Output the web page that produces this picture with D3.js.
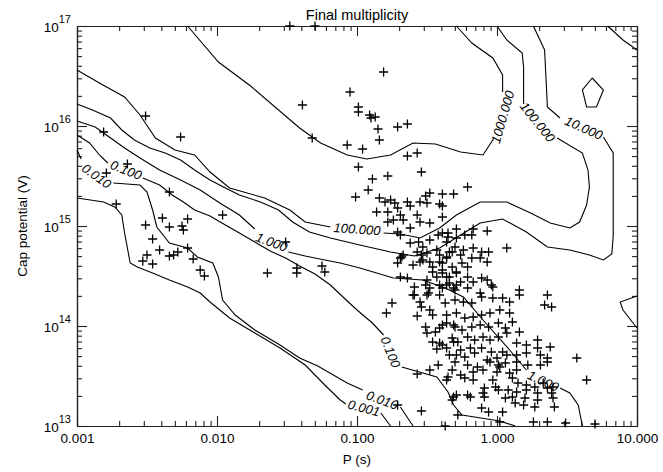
<!DOCTYPE html>
<html>
<head>
<meta charset="utf-8">
<script src="https://cdn.jsdelivr.net/npm/d3@7"></script>
<style>
body { margin: 0; background: #fff; }
text { font-family: "Liberation Sans", Arial, sans-serif; fill: #000; }
</style>
</head>
<body>
<div id="chart"></div>
<script>
// all values below are log10 units: [log10 P (s), log10 V]
var xTickValues = [0.001, 0.01, 0.1, 1, 10];
var xTickLabels = ["0.001", "0.010", "0.100", "1.000", "10.000"];
var yTickValues = [1e13, 1e14, 1e15, 1e16, 1e17];
var yTickExps = ["13", "14", "15", "16", "17"];

// contour lines, each level is a list of segments (broken where the label sits)
var c1000 = [
	[[-2.21,17.0],[-1.99,16.64],[-1.76,16.40],[-1.41,15.98],[-1.26,15.83],[-1.07,15.71],[-0.93,15.67],
	 [-0.76,15.71],[-0.60,15.83],[-0.44,15.82],[-0.26,15.74],[-0.10,15.71],[-0.03,15.86]],
	[[0.04,16.34],[0.04,16.51],[-0.03,16.68],[-0.18,16.83],[-0.29,17.0]]
];
var c100 = [
	[[-3.00,16.56],[-2.84,16.43],[-2.66,16.29],[-2.55,16.11],[-2.44,15.88],[-2.30,15.76],[-2.16,15.71],
	 [-2.05,15.54],[-1.91,15.38],[-1.66,15.28],[-1.48,15.16],[-1.37,15.04],[-1.19,14.99]],
	[[-0.81,14.93],[-0.69,14.92],[-0.55,14.88],[-0.41,14.98],[-0.29,15.11],[-0.12,15.24],[0.07,15.24],
	 [0.24,15.13],[0.38,15.03],[0.52,14.98],[0.59,15.04],[0.64,15.21],[0.66,15.39],[0.65,15.56],
	 [0.61,15.73],[0.43,15.88]],
	[[0.19,16.22],[0.19,16.59],[0.18,16.73],[0.07,16.86],[0.00,17.0]]
];
var c10 = [
	[[-3.00,16.22],[-2.89,16.16],[-2.76,16.08],[-2.68,15.96],[-2.59,15.86],[-2.48,15.78],[-2.37,15.73],
	 [-2.26,15.66],[-2.16,15.56],[-2.05,15.46],[-1.94,15.38],[-1.84,15.31],[-1.69,15.24],[-1.56,15.16],
	 [-1.46,15.04],[-1.34,14.94],[-1.19,14.88],[-0.98,14.81],[-0.76,14.74],[-0.59,14.70],[-0.41,14.78],
	 [-0.26,14.91],[-0.12,15.03],[0.04,15.07],[0.21,14.94],[0.36,14.79],[0.52,14.76],[0.66,14.71],
	 [0.76,14.66],[0.82,14.72],[0.83,14.90],[0.83,15.06],[0.83,15.73],[0.76,15.89]],
	[[0.45,16.08],[0.36,16.19],[0.34,16.76],[0.26,17.0]]
];
var c1 = [
	[[-3.00,16.05],[-2.87,15.99],[-2.76,15.88],[-2.66,15.78],[-2.55,15.68],[-2.41,15.56],[-2.26,15.46],
	 [-2.12,15.36],[-1.98,15.23],[-1.84,15.11],[-1.73,14.97]],
	[[-1.49,14.74],[-1.37,14.70],[-1.23,14.66],[-1.12,14.63],[-0.98,14.58],[-0.74,14.48],[-0.53,14.46],
	 [-0.37,14.38],[-0.24,14.29],[-0.10,14.06],[0.09,13.76],[0.21,13.56]],
	[[0.45,13.38],[0.52,13.33],[0.58,13.21],[0.61,13.00]],
	[[0.79,17.0],[0.90,16.86],[1.00,16.76]],
	[[0.68,16.48],[0.76,16.36],[0.71,16.19],[0.64,16.19],[0.61,16.36],[0.68,16.48]],
	[[1.00,14.30],[0.88,14.24],[0.90,14.16],[1.00,13.98]]
];
var c01 = [
	[[-3.00,15.91],[-2.91,15.83],[-2.84,15.71],[-2.78,15.63]],
	[[-2.53,15.48],[-2.41,15.41],[-2.32,15.31],[-2.24,15.24],[-2.16,15.16],[-2.05,15.10],[-1.94,15.01],
	 [-1.84,14.93],[-1.73,14.84],[-1.62,14.75],[-1.51,14.68],[-1.41,14.60],[-1.30,14.52],[-1.19,14.41],
	 [-1.10,14.29],[-1.00,14.16],[-0.89,14.03],[-0.81,13.91]],
	[[-0.68,13.59],[-0.43,13.49],[-0.35,13.34],[-0.31,13.21],[-0.25,13.11],[0.02,13.05],[0.13,13.00]]
];
var c001 = [
	[[-3.00,15.76],[-2.97,15.67]],
	[[-2.74,15.43],[-2.55,15.41],[-2.50,15.34],[-2.46,15.16],[-2.43,14.99],[-2.34,14.83],[-2.21,14.78],
	 [-2.14,14.69],[-2.03,14.63],[-1.99,14.49],[-1.96,14.26],[-1.87,14.11],[-1.73,13.96],[-1.55,13.81],
	 [-1.41,13.68],[-1.28,13.60],[-1.07,13.43],[-0.96,13.36]],
	[[-0.69,13.19],[-0.60,13.00]]
];
var c0001 = [
	[[-3.00,15.28],[-2.81,15.24],[-2.73,15.19],[-2.68,15.11],[-2.66,14.93],[-2.62,14.63],[-2.57,14.59],
	 [-2.46,14.53],[-2.34,14.46],[-2.21,14.39],[-2.12,14.33],[-2.05,14.24],[-1.91,14.08],[-1.73,13.93],
	 [-1.55,13.78],[-1.37,13.61],[-1.23,13.41],[-1.12,13.26],[-1.08,13.22]],
	[[-0.83,13.13],[-0.76,13.00]]
];

var labelText = ["1000.000", "100.000", "100.000", "10.000", "1.000", "1.000",
	"0.100", "0.100", "0.010", "0.010", "0.001"];
var labelPos = [[0.04,16.09], [-1.00,14.97], [0.29,16.04], [0.62,15.98], [-1.61,14.84], [0.33,13.45],
	[-2.65,15.56], [-0.76,13.74], [-2.86,15.50], [-0.82,13.26], [-0.95,13.18]];
var labelAngle = [-74, 4, 51, 24, 20, 25, 22, 68, 36, 20, 15];

// pulsars (scatter)
var pointsLeft = [
	[-2.81,15.94],[-2.51,16.10],[-2.26,15.89],[-2.79,15.53],[-2.64,15.62],[-2.72,15.22],[-2.34,15.34],
	[-2.51,15.01],[-2.39,15.08],[-2.34,14.99],[-2.25,15.00],[-2.21,15.07],[-2.24,14.96],[-2.46,14.87],
	[-2.41,14.76],[-2.21,14.78],[-2.28,14.74],[-2.34,14.70],[-2.31,14.71],[-2.50,14.71],[-2.53,14.65],
	[-2.46,14.62],[-2.17,14.67],[-2.12,14.56],[-2.09,14.50],[-1.96,15.11],[-1.64,14.53],[-1.51,14.84],
	[-1.43,14.58],[-1.43,14.53],[-1.25,14.60],[-1.23,14.54]
];
var pointsUpper = [
	[-1.39,16.21],[-0.99,16.19],[-0.99,16.14],[-1.32,15.88],[-1.07,15.81],[-0.99,15.59],[-1.01,15.29],
	[-0.81,16.54],[-1.05,16.34],[-0.91,16.11],[-0.87,16.09],[-0.90,16.08],[-0.85,15.97],[-0.71,15.99],
	[-0.64,16.02],[-0.84,15.86],[-0.96,15.77],[-0.64,15.70],[-0.57,15.73],[-1.48,17.0],[-1.30,17.0]
];
var pointsClusterTop = [
	[-0.89,15.47],[-0.78,15.50],[-0.54,15.54],[-0.92,15.36],[-0.84,15.28],[-0.80,15.24],[-0.73,15.23],
	[-0.71,15.18],[-0.64,15.24],[-0.62,15.20],[-0.55,15.24],[-0.50,15.23],[-0.51,15.30],[-0.48,15.33],
	[-0.39,15.32],[-0.31,15.32],[-0.41,15.22],[-0.39,15.09],[-0.74,15.06],[-0.67,15.06],[-0.57,15.11],
	[-0.55,15.04],[-0.48,15.03],[-0.71,14.94],[-0.69,14.91],[-0.62,14.98],[-0.62,14.83],[-0.56,14.84],
	[-0.53,14.79],[-0.48,14.86],[-0.42,14.91],[-0.35,14.93],[-0.36,14.84],[-0.29,14.88],[-0.57,14.74],
	[-0.54,14.71],[-0.50,14.73],[-0.43,14.76],[-0.41,14.71],[-0.69,14.68],[-0.67,14.71],[-0.71,14.63],
	[-0.53,14.66],[-0.60,14.61],[-0.55,14.64],[-0.48,14.64],[-0.46,14.59],[-0.41,14.64],[-0.36,14.68],
	[-0.32,14.74],[-0.69,14.49],[-0.64,14.48],[-0.50,14.46],[-0.46,14.54],[-0.43,14.49],[-0.39,14.53],
	[-0.34,14.49],[-0.29,14.53],[-0.59,14.39],[-0.51,14.41],[-0.48,14.38],[-0.41,14.41],[-0.36,14.41],
	[-0.59,14.31],[-0.49,14.33],[-0.41,14.31],[-0.31,14.38],[-0.29,14.41],[-0.21,15.39],[-0.76,15.26],
	[-0.86,15.14],[-0.78,15.14],[-0.69,15.11],[-0.78,15.04],[-0.68,14.69]
];
var pointsClusterMid = [
	[-0.39,15.20],[-0.29,14.97],[-0.17,14.97],[-0.07,14.95],[-0.39,14.93],[-0.35,14.89],[-0.23,14.91],
	[-0.18,14.91],[0.07,14.78],[-0.30,14.79],[-0.24,14.76],[-0.17,14.78],[-0.11,14.74],[-0.06,14.74],
	[-0.34,14.74],[-0.36,14.69],[-0.26,14.71],[-0.12,14.68],[-0.07,14.64],[-0.18,14.68],[-0.39,14.63],
	[-0.25,14.63],[-0.21,14.59],[-0.32,14.59],[-0.39,14.56],[-0.29,14.54],[-0.21,14.49],[-0.11,14.48],
	[-0.07,14.46],[-0.36,14.49],[-0.34,14.43],[-0.26,14.44],[-0.17,14.44],[-0.04,14.41],[-0.03,14.39],
	[-0.39,14.38],[-0.30,14.36],[-0.21,14.38],[-0.12,14.33],[0.04,14.28],[0.16,14.36],[0.16,14.31],
	[0.36,14.31],[-0.75,14.23],[-0.79,14.13],[-0.57,14.10],[-0.60,14.31],[-0.55,14.24],[-0.50,14.31],
	[-0.54,14.19],[-0.48,14.16],[-0.46,14.11],[-0.51,13.99],[-0.50,13.93],[-0.44,13.94],[-0.41,13.98],
	[-0.36,14.03],[-0.31,14.01],[-0.46,13.84],[-0.41,13.83],[-0.43,13.77],[-0.36,13.78],[-0.31,13.84],
	[-0.29,13.71],[-0.42,13.61],[-0.48,13.56],[-0.57,13.52],[-0.35,13.49],[-0.36,13.46],[-0.31,13.29],
	[-0.32,13.26],[-0.29,13.31],[-0.28,13.11],[-0.71,13.21],[-0.54,13.15],[-0.37,13.00]
];
var pointsClusterLow = [
	[0.34,14.21],[0.39,14.19],[-0.37,14.23],[-0.30,14.26],[-0.24,14.24],[-0.18,14.23],[-0.11,14.29],
	[-0.03,14.28],[0.09,14.24],[-0.36,14.11],[-0.29,14.13],[-0.23,14.08],[-0.17,14.09],[-0.11,14.11],
	[-0.05,14.13],[0.02,14.16],[0.09,14.13],[0.11,14.04],[-0.39,14.01],[-0.30,13.99],[-0.25,13.96],
	[-0.18,13.99],[-0.12,14.01],[-0.06,13.99],[0.01,14.03],[0.06,13.98],[0.16,13.94],[-0.32,13.88],
	[-0.28,13.84],[-0.21,13.89],[-0.16,13.86],[-0.10,13.89],[-0.05,13.86],[0.01,13.89],[0.07,13.93],
	[-0.39,13.81],[-0.26,13.76],[-0.19,13.78],[-0.11,13.78],[-0.04,13.74],[0.04,13.74],[0.14,13.83],
	[0.21,13.81],[0.29,13.86],[0.29,13.78],[0.38,13.79],[-0.34,13.71],[-0.23,13.69],[-0.16,13.73],
	[-0.07,13.66],[0.00,13.68],[0.07,13.71],[0.14,13.71],[0.21,13.73],[0.31,13.71],[0.36,13.68],
	[-0.30,13.64],[-0.21,13.61],[-0.14,13.59],[-0.05,13.64],[0.01,13.61],[0.06,13.63],[0.14,13.64],
	[0.22,13.61],[0.31,13.61],[0.36,13.64],[-0.32,13.56],[-0.26,13.51],[-0.17,13.54],[-0.10,13.56],
	[0.00,13.54],[0.02,13.59],[0.09,13.53],[0.14,13.56],[-0.23,13.48],[-0.17,13.46],[-0.03,13.46],
	[0.11,13.48],[0.15,13.43],[0.21,13.41],[0.27,13.39],[0.33,13.43],[0.36,13.38],[0.40,13.39],
	[-0.09,13.38],[-0.01,13.39],[0.01,13.36],[0.08,13.36],[0.14,13.34],[0.21,13.36],[0.29,13.33],
	[0.39,13.33],[-0.10,13.33],[-0.19,13.29],[-0.09,13.29],[0.06,13.28],[0.11,13.29],[0.20,13.28],
	[0.29,13.26],[0.40,13.28],[0.13,13.23],[0.19,13.21],[0.27,13.19],[0.41,13.19],[-0.11,13.18],
	[-0.06,13.14],[0.04,13.14],[0.26,13.04],[0.02,13.04],[0.36,13.04],[0.49,13.03],[0.57,13.68],
	[0.70,13.02],[0.64,13.46],[-0.21,13.31]
];

var margin = { left: 77, top: 26 }, width = 560, height = 400;

var x = d3.scaleLog().domain([0.001, 10]).range([0, width]);
var y = d3.scaleLog().domain([1e13, 1e17]).range([height, 0]);

function px(d) { return x(Math.pow(10, d[0])); }
function py(d) { return y(Math.pow(10, d[1])); }

var svg = d3.select("#chart").append("svg").attr("width", 663).attr("height", 472);

svg.append("text").attr("x", margin.left + width / 2).attr("y", 20)
	.attr("text-anchor", "middle").style("font-size", "14.5px").text("Final multiplicity");

var g = svg.append("g").attr("transform", "translate(" + margin.left + "," + margin.top + ")");

// minor tick values
var xMinor = [], yMinor = [];
for (var e = -3; e < 1; e++) {
	for (var m = 2; m < 10; m++) xMinor.push(m * Math.pow(10, e));
}
for (var e2 = 13; e2 < 17; e2++) {
	for (var m2 = 2; m2 < 10; m2++) yMinor.push(m2 * Math.pow(10, e2));
}

function styleAxis(sel) {
	sel.select(".domain").attr("stroke", "#222").attr("stroke-width", 1.2);
	sel.selectAll(".tick line").attr("stroke", "#222").attr("stroke-width", 1.1);
}

// bottom
var bottom = g.append("g").attr("transform", "translate(0," + height + ")")
	.call(d3.axisBottom(x).tickValues(xTickValues).tickFormat(function(d, i) { return xTickLabels[i]; })
		.tickSizeInner(-10).tickSizeOuter(0).tickPadding(7));
bottom.selectAll("text").style("font-size", "13.5px").style("font-family", "Liberation Sans, Arial, sans-serif");
styleAxis(bottom);
styleAxis(g.append("g").attr("transform", "translate(0," + height + ")")
	.call(d3.axisBottom(x).tickValues(xMinor).tickFormat("").tickSizeInner(-5).tickSizeOuter(0)));
// top
styleAxis(g.append("g").call(d3.axisTop(x).tickValues(xTickValues).tickFormat("").tickSizeInner(-10).tickSizeOuter(0)));
styleAxis(g.append("g").call(d3.axisTop(x).tickValues(xMinor).tickFormat("").tickSizeInner(-5).tickSizeOuter(0)));
// left
styleAxis(g.append("g").call(d3.axisLeft(y).tickValues(yTickValues).tickFormat("").tickSizeInner(-10).tickSizeOuter(0)));
styleAxis(g.append("g").call(d3.axisLeft(y).tickValues(yMinor).tickFormat("").tickSizeInner(-5).tickSizeOuter(0)));
// right
styleAxis(g.append("g").attr("transform", "translate(" + width + ",0)")
	.call(d3.axisRight(y).tickValues(yTickValues).tickFormat("").tickSizeInner(-10).tickSizeOuter(0)));
styleAxis(g.append("g").attr("transform", "translate(" + width + ",0)")
	.call(d3.axisRight(y).tickValues(yMinor).tickFormat("").tickSizeInner(-5).tickSizeOuter(0)));

// y tick labels 10^n
yTickValues.forEach(function(v, i) {
	var t = g.append("text").attr("x", -6).attr("y", y(v) + 6).attr("text-anchor", "end")
		.style("font-size", "13.5px");
	t.append("tspan").text("10");
	t.append("tspan").attr("dy", -9).style("font-size", "11px").text(yTickExps[i]);
});

svg.append("text").attr("x", margin.left + width / 2).attr("y", 464)
	.attr("text-anchor", "middle").style("font-size", "13.5px").text("P (s)");
svg.append("text").attr("transform", "translate(27," + (margin.top + height / 2) + ") rotate(-90)")
	.attr("text-anchor", "middle").style("font-size", "13.5px").text("Cap potential (V)");

// contours
var line = d3.line().x(px).y(py);
var plot = g.append("g");
[c1000, c100, c10, c1, c01, c001, c0001].forEach(function(level) {
	level.forEach(function(seg) {
		plot.append("path").attr("d", line(seg)).attr("fill", "none")
			.attr("stroke", "#000").attr("stroke-width", 1.1);
	});
});

labelText.forEach(function(t, i) {
	plot.append("text")
		.attr("transform", "translate(" + px(labelPos[i]) + "," + py(labelPos[i]) + ") rotate(" + labelAngle[i] + ")")
		.attr("text-anchor", "middle").attr("dy", "0.35em")
		.style("font-size", "13px").style("font-style", "italic").text(t);
});

// scatter
var allPoints = pointsLeft.concat(pointsUpper, pointsClusterTop, pointsClusterMid, pointsClusterLow);
plot.selectAll("path.pt").data(allPoints).enter().append("path").attr("class", "pt")
	.attr("transform", function(d) { return "translate(" + px(d) + "," + py(d) + ")"; })
	.attr("d", "M-4.5,0H4.5M0,-4.5V4.5")
	.attr("stroke", "#000").attr("stroke-width", 1.3);
</script>
</body>
</html>
